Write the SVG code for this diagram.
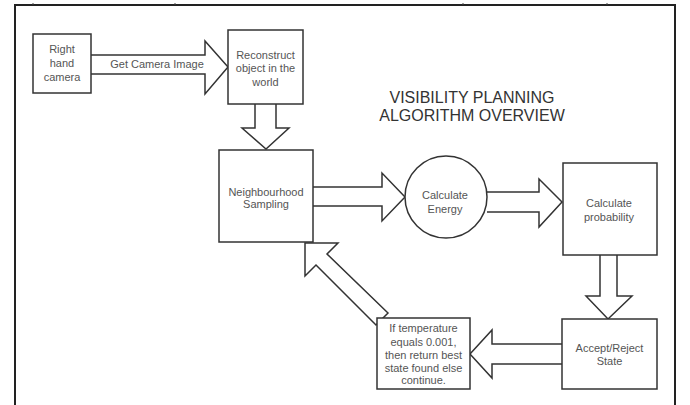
<svg xmlns="http://www.w3.org/2000/svg" width="690" height="405" viewBox="0 0 690 405">
  <style>
    .frame { fill: none; stroke: #222; stroke-width: 2; }
    .box { fill: #fff; stroke: #333; stroke-width: 1.5; }
    .arrow { fill: #fff; stroke: #333; stroke-width: 1.5; stroke-linejoin: miter; }
    .lbl { font-family: "Liberation Sans", Arial, sans-serif; font-size: 11px; fill: #555; text-anchor: middle; }
    .title { font-family: "Liberation Sans", Arial, sans-serif; font-size: 16px; fill: #333; text-anchor: middle; }
  </style>
  <rect width="690" height="405" fill="#fff"/>

  <!-- page frame -->
  <g id="frame">
    <path class="frame" d="M15,405 V5 H675 V405"/>
    <path d="M33,3 V5 M175,3 V5 M463,3 V5 M607,3 V5" stroke="#444" stroke-width="1"/>
  </g>

  <g id="title">
    <text class="title" x="472" y="103">VISIBILITY PLANNING</text>
    <text class="title" x="472" y="121">ALGORITHM OVERVIEW</text>
  </g>

  <!-- block arrows -->
  <g id="connectors">
    <path class="arrow" d="M91,55 H205 V41 L228,67 L205,94 V74 H91"/>
    <text class="lbl" x="157" y="68">Get Camera Image</text>
    <path class="arrow" d="M255,104 V128 H242 L266,149 L289,128 H276 V104"/>
    <path class="arrow" d="M313,187 H382 V173 L405,197 L382,221 V206 H313"/>
    <path class="arrow" d="M487,192 H539 V179 L562,202 L539,227 V212 H487"/>
    <path class="arrow" d="M600,255 V296 H586 L608,319 L632,296 H617 V255"/>
    <path class="arrow" d="M562,344 H492 V330 L470,354 L492,378 V364 H562"/>
    <path class="arrow" d="M388,313 L327,254 L338,243 H305 V276 L316,265 L376,325 Z"/>
  </g>

  <g id="camera">
    <rect class="box" x="33" y="34" width="58" height="59"/>
    <text class="lbl" x="62" y="53">Right</text>
    <text class="lbl" x="62" y="67">hand</text>
    <text class="lbl" x="62" y="81">camera</text>
  </g>

  <g id="reconstruct">
    <rect class="box" x="228" y="30" width="75" height="74"/>
    <text class="lbl" x="265.5" y="59">Reconstruct</text>
    <text class="lbl" x="265.5" y="72">object in the</text>
    <text class="lbl" x="265.5" y="86">world</text>
  </g>

  <g id="neighbourhood">
    <rect class="box" x="219" y="150" width="94" height="92"/>
    <text class="lbl" x="266" y="196">Neighbourhood</text>
    <text class="lbl" x="266" y="208">Sampling</text>
  </g>

  <g id="energy">
    <circle class="box" cx="446" cy="197" r="41"/>
    <text class="lbl" x="445" y="199">Calculate</text>
    <text class="lbl" x="445" y="213">Energy</text>
  </g>

  <g id="probability">
    <rect class="box" x="563" y="163" width="94" height="92"/>
    <text class="lbl" x="609" y="207">Calculate</text>
    <text class="lbl" x="609" y="221">probability</text>
  </g>

  <g id="accept">
    <rect class="box" x="562" y="319" width="95" height="70"/>
    <text class="lbl" x="609.5" y="352">Accept/Reject</text>
    <text class="lbl" x="609.5" y="365">State</text>
  </g>

  <g id="temperature">
    <rect class="box" x="377" y="318" width="93" height="71"/>
    <text class="lbl" x="423.5" y="332">If temperature</text>
    <text class="lbl" x="423.5" y="346">equals 0.001,</text>
    <text class="lbl" x="423.5" y="359">then return best</text>
    <text class="lbl" x="423.5" y="372">state found else</text>
    <text class="lbl" x="423.5" y="384">continue.</text>
  </g>
</svg>
